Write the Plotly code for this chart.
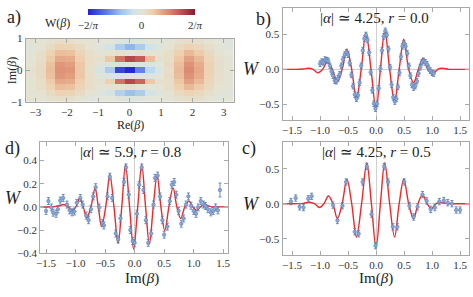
import plotly.graph_objects as go
import math

FW, FH = 473, 297
def px(x): return x / FW
def py(y): return 1 - y / FH

# ---------------- panel a : heatmap data ----------------
A_RE = [-3.15, -2.835, -2.52, -2.205, -1.89, -1.575, -1.26, -0.945, -0.63, -0.315, 0.0,
        0.315, 0.63, 0.945, 1.26, 1.575, 1.89, 2.205, 2.52, 2.835, 3.15]
A_IM = [-0.909, -0.727, -0.545, -0.364, -0.182, 0.0, 0.182, 0.364, 0.545, 0.727, 0.909]
A_W = [
    [0.02, 0.01, 0.03, 0.05, 0.04, 0.02, -0.02, 0.0, 0.0, -0.02, -0.03, -0.02, 0.0, 0.0, 0.01, 0.03, 0.05, 0.04, 0.02, -0.01, 0.01],
    [0.01, 0.02, 0.06, 0.11, 0.10, 0.06, 0.02, -0.02, -0.06, -0.18, -0.25, -0.2, -0.06, -0.02, 0.02, 0.07, 0.11, 0.08, 0.04, 0.01, -0.02],
    [0.02, 0.04, 0.11, 0.18, 0.17, 0.10, 0.04, 0.01, 0.02, 0.02, 0.03, 0.02, 0.0, 0.01, 0.04, 0.12, 0.19, 0.14, 0.07, 0.02, 0.01],
    [0.02, 0.05, 0.14, 0.24, 0.23, 0.13, 0.05, 0.03, 0.12, 0.38, 0.5, 0.42, 0.15, 0.03, 0.05, 0.15, 0.26, 0.19, 0.09, 0.03, 0.01],
    [0.02, 0.06, 0.17, 0.29, 0.27, 0.15, 0.05, -0.02, -0.04, -0.05, -0.02, -0.03, -0.04, -0.01, 0.06, 0.18, 0.30, 0.23, 0.11, 0.04, 0.01],
    [0.03, 0.06, 0.18, 0.30, 0.29, 0.15, 0.03, -0.06, -0.2, -0.55, -0.62, -0.4, -0.15, -0.05, 0.05, 0.19, 0.32, 0.24, 0.11, 0.04, 0.02],
    [0.02, 0.06, 0.17, 0.29, 0.27, 0.15, 0.05, -0.02, -0.05, -0.06, -0.02, -0.04, -0.05, -0.01, 0.06, 0.18, 0.30, 0.23, 0.11, 0.04, 0.01],
    [0.02, 0.05, 0.14, 0.24, 0.23, 0.13, 0.05, 0.03, 0.15, 0.38, 0.5, 0.45, 0.18, 0.03, 0.05, 0.15, 0.26, 0.19, 0.09, 0.03, 0.01],
    [0.01, 0.04, 0.11, 0.18, 0.17, 0.10, 0.04, 0.01, 0.02, 0.03, 0.02, 0.03, 0.02, 0.01, 0.04, 0.12, 0.19, 0.14, 0.07, 0.02, 0.0],
    [-0.02, 0.02, 0.06, 0.11, 0.10, 0.06, 0.02, -0.02, -0.08, -0.2, -0.28, -0.2, -0.08, -0.02, 0.02, 0.07, 0.11, 0.08, 0.04, 0.01, -0.02],
    [0.02, 0.01, 0.03, 0.05, 0.04, 0.02, 0.01, 0.0, 0.0, -0.03, -0.04, -0.03, 0.0, -0.01, 0.01, 0.03, 0.05, 0.04, 0.02, 0.0, -0.02],
]
A_TICKS = [-3, -2, -1, 0, 1, 2, 3]
A_YTICKS = [-1, 0, 1]
CB_TICKTEXT = ["\u22122/<i>\u03c0</i>", "0", "2/<i>\u03c0</i>"]

# ---------------- panel b ----------------
B_FIT_X = [-1.66, -1.45, -1.3, -1.21, -1.125, -1.04, -0.955, -0.87, -0.78, -0.69, -0.605, -0.52, -0.435, -0.35,
           -0.265, -0.18, -0.09, 0.0, 0.078, 0.156, 0.243, 0.33, 0.413, 0.495, 0.583, 0.67, 0.755, 0.84, 0.925,
           1.01, 1.1, 1.18, 1.3, 1.45, 1.66]
B_FIT_W = [0, 0, 0.005, 0.015, 0.0, -0.05, 0.0, 0.105, 0.0, -0.18, 0.0, 0.29, 0.0, -0.42, 0.0, 0.52, 0.0, -0.57,
           0.0, 0.55, 0.0, -0.46, 0.0, 0.43, 0.0, -0.19, 0.0, 0.16, 0.0, -0.07, 0.0, 0.015, 0.0, 0, 0]
B_X = [-1.0, -0.97, -0.94, -0.91, -0.88, -0.852, -0.823, -0.795, -0.767, -0.738, -0.71, -0.68, -0.65, -0.62, -0.59,
       -0.56, -0.53, -0.50, -0.47, -0.44, -0.41, -0.38, -0.35, -0.322, -0.293, -0.265, -0.237, -0.208, -0.18, -0.152,
       -0.123, -0.095, -0.067, -0.038, -0.01, 0.019, 0.048, 0.078, 0.107, 0.136, 0.165, 0.193, 0.222, 0.25, 0.278,
       0.307, 0.335, 0.363, 0.39, 0.418, 0.445, 0.473, 0.5, 0.528, 0.557, 0.585, 0.613, 0.642, 0.67, 0.70, 0.73,
       0.76, 0.79, 0.82, 0.85, 0.88, 0.91, 0.94, 0.97, 1.0, 1.03]
B_W = [0.08, 0.11, 0.10, 0.14, 0.13, 0.12, 0.05, -0.03, -0.09, -0.16, -0.17, -0.13, -0.07, 0.05, 0.14, 0.21, 0.24,
       0.21, 0.09, -0.08, -0.24, -0.36, -0.42, -0.37, -0.19, 0.05, 0.27, 0.44, 0.49, 0.42, 0.24, -0.04, -0.30, -0.49,
       -0.56, -0.49, -0.27, 0.01, 0.27, 0.47, 0.55, 0.49, 0.29, 0.03, -0.22, -0.40, -0.46, -0.42, -0.25, -0.05, 0.18,
       0.33, 0.37, 0.33, 0.23, 0.05, -0.09, -0.22, -0.26, -0.24, -0.17, -0.06, 0.03, 0.10, 0.12, 0.10, 0.07, 0.02,
       -0.02, -0.05, -0.06]
B_ERR = [0.04] * len(B_X)

# ---------------- panel c ----------------
C_FIT_X = [-1.7, -1.45, -1.3, -1.19, -1.1, -1.01, -0.93, -0.85, -0.77, -0.69, -0.605, -0.52, -0.435, -0.35, -0.258,
           -0.165, -0.083, 0.0, 0.078, 0.155, 0.243, 0.33, 0.413, 0.495, 0.583, 0.67, 0.75, 0.83, 0.91, 0.99, 1.07,
           1.15, 1.3, 1.45, 1.7]
C_FIT_W = [0, 0, 0.005, 0.02, 0.0, -0.055, 0.0, 0.11, 0.0, -0.215, 0.0, 0.35, 0.0, -0.475, 0.0, 0.585, 0.0, -0.625,
           0.0, 0.585, 0.0, -0.475, 0.0, 0.35, 0.0, -0.215, 0.0, 0.13, 0.0, -0.07, 0.0, 0.015, 0.0, 0, 0]
C_X = [-1.52, -1.435, -1.365, -1.295, -1.21, -1.15, -0.77, -0.69, -0.6, -0.535, -0.38, -0.31, -0.24, -0.165, -0.08,
       -0.01, 0.145, 0.215, 0.3, 0.38, 0.505, 0.595, 0.67, 0.74, 0.83, 0.905, 0.975, 1.05, 1.13, 1.21, 1.28, 1.355,
       1.43, 1.5]
C_W = [0.03, 0.08, -0.045, -0.055, 0.07, 0.105, -0.02, -0.24, -0.03, 0.31, -0.40, -0.43, 0.31, 0.53, -0.15, -0.60,
       0.53, 0.31, -0.33, -0.33, 0.31, -0.03, -0.19, -0.045, 0.13, 0.04, -0.08, -0.055, 0.03, 0.045, 0.014, 0.0,
       -0.09, -0.09]
C_ERR = [0.045] * len(C_X)

# ---------------- panel d ----------------
D_FIT_X = [-1.6, -1.4, -1.27, -1.2, -1.13, -1.06, -0.995, -0.93, -0.87, -0.81, -0.74, -0.67, -0.615, -0.56, -0.49,
           -0.42, -0.35, -0.28, -0.218, -0.155, -0.086, -0.017, 0.052, 0.12, 0.185, 0.25, 0.315, 0.38, 0.445, 0.51,
           0.58, 0.65, 0.715, 0.78, 0.85, 0.92, 0.985, 1.05, 1.115, 1.18, 1.3, 1.45, 1.58]
D_FIT_W = [0, 0, 0.01, 0.02, 0.0, -0.03, 0.0, 0.075, 0.0, -0.094, 0.0, 0.16, 0.0, -0.17, 0.0, 0.28, 0.0, -0.315,
           0.0, 0.365, 0.0, -0.365, 0.0, 0.365, 0.0, -0.32, 0.0, 0.275, 0.0, -0.205, 0.0, 0.165, 0.0, -0.1, 0.0,
           0.05, 0.0, -0.03, 0.0, 0.02, 0.0, 0, 0]
D_X = [-1.5, -1.46, -1.41, -1.38, -1.33, -1.3, -1.26, -1.21, -1.145, -1.1, -1.06, -1.02, -0.98, -0.92, -0.88, -0.82,
       -0.78, -0.74, -0.7, -0.66, -0.6, -0.545, -0.52, -0.46, -0.42, -0.38, -0.32, -0.28, -0.24, -0.18, -0.145, -0.1,
       -0.073, -0.033, 0.0, 0.04, 0.077, 0.12, 0.15, 0.19, 0.23, 0.28, 0.32, 0.345, 0.39, 0.43, 0.47, 0.5, 0.555,
       0.595, 0.63, 0.67, 0.705, 0.745, 0.79, 0.83, 0.87, 0.91, 0.955, 1.0, 1.04, 1.075, 1.12, 1.165, 1.2, 1.24,
       1.29, 1.33, 1.37, 1.41, 1.445]
D_W = [-0.035, 0.05, -0.005, -0.05, -0.06, -0.02, 0.055, 0.077, 0.02, -0.03, -0.047, -0.04, 0.035, 0.077, 0.02,
       -0.075, -0.115, -0.02, 0.09, 0.17, -0.005, -0.14, -0.16, 0.09, 0.26, 0.077, -0.23, -0.28, -0.1, 0.215, 0.34,
       0.105, -0.2, -0.295, -0.31, -0.06, 0.19, 0.34, 0.145, -0.115, -0.31, -0.23, 0.02, 0.25, 0.27, 0.09, -0.115,
       -0.24, -0.17, 0.05, 0.19, 0.215, 0.105, -0.035, -0.145, -0.1, 0.02, 0.09, 0.01, -0.035, -0.06, -0.005, 0.05,
       0.02, 0.008, -0.02, -0.047, -0.035, -0.005, -0.03, 0.145]
D_ERR = [0.03] * (len(D_X) - 1) + [0.06]

IM_TICKS = [-1.5, -1.0, -0.5, 0.0, 0.5, 1.0, 1.5]
BC_YTICKS = [-0.5, 0.0, 0.5]
D_YTICKS = [-0.4, -0.2, 0.0, 0.2, 0.4]

# ---------------- styling ----------------
SERIF = "Liberation Serif, Times New Roman, serif"
FRAME = "#a8a8a8"
TXT = "#333333"
RED = "#f0282a"
BLUE = "#5e81b5"
MFILL = "#8aa6d6"

colorscale = [
    [0.0, "#2222cc"], [0.15, "#5470e0"], [0.3, "#9bbfec"], [0.42, "#cde2ec"], [0.5, "#e2e5d8"],
    [0.6, "#efd0ae"], [0.72, "#e19a7c"], [0.85, "#c85a58"], [1.0, "#8a1a2e"],
]
zlim = 2 / math.pi

fig = go.Figure()
fig.add_trace(go.Heatmap(
    x=A_RE, y=A_IM, z=A_W, colorscale=colorscale, zmin=-zlim, zmax=zlim,
    xaxis="x", yaxis="y", hoverinfo="skip",
    colorbar=dict(orientation="h", x=px(139.5), xanchor="center", y=py(3), yanchor="top",
                  lenmode="pixels", len=107, thickness=6, thicknessmode="pixels",
                  xpad=0, ypad=0, outlinewidth=0, ticks="",
                  tickvals=[-zlim, 0, zlim], ticktext=CB_TICKTEXT,
                  tickfont=dict(family=SERIF, size=11, color=TXT)),
))

def add_panel(fx, fw, dx, dw, de, xa, ya):
    fig.add_trace(go.Scatter(x=fx, y=fw, mode="lines", line=dict(color=RED, width=1.4, shape="spline", smoothing=1.0),
                             xaxis=xa, yaxis=ya, showlegend=False, hoverinfo="skip"))
    fig.add_trace(go.Scatter(x=dx, y=dw, mode="markers",
                             marker=dict(size=3.5, color=MFILL, line=dict(width=0.6, color=BLUE)),
                             error_y=dict(type="data", array=de, color=BLUE, thickness=0.9, width=1.5),
                             xaxis=xa, yaxis=ya, showlegend=False))

add_panel(B_FIT_X, B_FIT_W, B_X, B_W, B_ERR, "x2", "y2")
add_panel(C_FIT_X, C_FIT_W, C_X, C_W, C_ERR, "x3", "y3")
add_panel(D_FIT_X, D_FIT_W, D_X, D_W, D_ERR, "x4", "y4")

def ax(domain, rng, tickvals, anchor, fmt=None, zero=False, showlabels=True):
    d = dict(domain=domain, range=rng, tickvals=tickvals, anchor=anchor, showgrid=False,
             showline=True, linecolor=FRAME, linewidth=1, mirror="ticks",
             ticks="inside", ticklen=4, tickcolor=FRAME, tickwidth=1,
             tickfont=dict(family=SERIF, size=11, color=TXT),
             zeroline=zero, zerolinecolor="#cfcfcf", zerolinewidth=1,
             showticklabels=showlabels)
    if fmt:
        d["tickformat"] = fmt
    return d

fig.update_layout(
    width=FW, height=FH, margin=dict(l=0, r=0, t=0, b=0),
    paper_bgcolor="white", plot_bgcolor="white", showlegend=False,
    xaxis=ax([px(22), px(233)], [-3.31, 3.31], A_TICKS, "y"),
    yaxis=ax([py(100), py(34)], [-1, 1], A_YTICKS, "x"),
    xaxis2=ax([px(282.7), px(472)], [-1.67, 1.66], IM_TICKS, "y2", ".1f", True),
    yaxis2=ax([py(119), py(2)], [-0.726, 0.877], BC_YTICKS, "x2", ".1f", True),
    xaxis3=ax([px(282.7), px(472)], [-1.67, 1.66], IM_TICKS, "y3", ".1f", True),
    yaxis3=ax([py(259), py(142)], [-0.726, 0.877], BC_YTICKS, "x3", ".1f", True),
    xaxis4=ax([px(36.7), px(227.3)], [-1.6, 1.58], IM_TICKS, "y4", ".1f", True),
    yaxis4=ax([py(257.7), py(142)], [-0.4, 0.557], D_YTICKS, "x4", ".1f", True),
)

def label(text, x, y, size, angle=0):
    fig.add_annotation(text=text, x=px(x), y=py(y), xref="paper", yref="paper",
                       showarrow=False, xanchor="center", yanchor="middle", textangle=angle,
                       font=dict(family=SERIF, size=size, color="#222222"))

label("a)", 10, 12, 18)
label("W(<i>\u03b2</i>)", 54, 18, 12)
label("Im(<i>\u03b2</i>)", 8, 67, 12, angle=-90)
label("Re(<i>\u03b2</i>)", 128, 124, 12)
label("b)", 263, 14, 18)
label("|<i>\u03b1</i>| \u2243 4.25, <i>r</i> = 0.0", 376, 12, 15)
label("<i>W</i>", 251, 66, 18)
label("c)", 249, 148, 18)
label("|<i>\u03b1</i>| \u2243 4.25, <i>r</i> = 0.5", 378, 152, 15)
label("<i>W</i>", 251, 206, 18)
label("Im(<i>\u03b2</i>)", 378, 284, 15)
label("d)", 9, 148, 18)
label("|<i>\u03b1</i>| \u2243 5.9, <i>r</i> = 0.8", 128, 152, 15)
label("<i>W</i>", 10, 200, 18)
label("Im(<i>\u03b2</i>)", 140, 284, 15)

fig.write_html("out.html", config={"displayModeBar": False},
               post_script="document.body.style.margin='0';document.body.style.overflow='hidden';")
